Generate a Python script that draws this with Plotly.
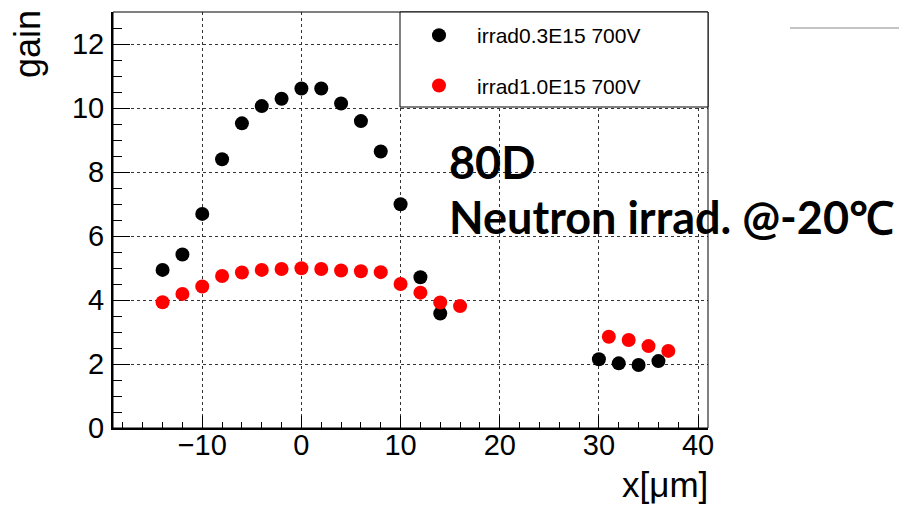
import plotly.graph_objects as go

# ---- data ----
x_black = [-14, -12, -10, -8, -6, -4, -2, 0, 2, 4, 6, 8, 10, 12, 14, 30, 32, 34, 36]
y_black = [4.94, 5.42, 6.69, 8.40, 9.52, 10.06, 10.29, 10.61, 10.61, 10.14, 9.59, 8.64, 6.99,
           4.71, 3.58, 2.15, 2.02, 1.97, 2.09]
x_red = [-14, -12, -10, -8, -6, -4, -2, 0, 2, 4, 6, 8, 10, 12, 14, 16, 31, 33, 35, 37]
y_red = [3.93, 4.19, 4.42, 4.75, 4.86, 4.94, 4.97, 4.99, 4.97, 4.92, 4.90, 4.87, 4.50,
         4.23, 3.92, 3.81, 2.85, 2.75, 2.56, 2.41]
name_black = "irrad0.3E15 700V"
name_red = "irrad1.0E15 700V"
x_title = "x[\u03bcm]"
y_title = "gain"
label_1 = "80D"
label_2 = "Neutron irrad. @-20\u2103"

W, H = 899, 505
L, R, T, B = 113, 191, 12, 77
pw, ph = W - L - R, H - T - B


def px(xp):
    return (xp - L) / pw


def py(yp):
    return (H - B - yp) / ph


fig = go.Figure()
fig.add_trace(go.Scatter(x=x_black, y=y_black, mode="markers", name=name_black,
                         marker=dict(color="black", size=14), legendgroup="a"))
fig.add_trace(go.Scatter(x=x_red, y=y_red, mode="markers", name=name_red,
                         marker=dict(color="#ff0000", size=14), legendgroup="b"))

tickfont = dict(family="Liberation Sans, Arial, sans-serif", size=29, color="black")
fig.update_xaxes(range=[-19, 41], dtick=10, tick0=0, showline=True, linewidth=2, linecolor="black",
                 ticks="inside", ticklen=12, tickwidth=1, tickcolor="black",
                 minor=dict(dtick=2, ticks="inside", ticklen=6, tickcolor="black", showgrid=False),
                 showgrid=True, gridcolor="#333", griddash="dot", gridwidth=1,
                 zeroline=False, tickfont=tickfont, ticklabelstandoff=-10)
fig.update_yaxes(range=[0, 13], dtick=2, tick0=0, showline=True, linewidth=2, linecolor="black",
                 ticks="inside", ticklen=17, tickwidth=1, tickcolor="black",
                 minor=dict(dtick=0.5, ticks="inside", ticklen=9, tickcolor="black", showgrid=False),
                 showgrid=True, gridcolor="#333", griddash="dot", gridwidth=1,
                 zeroline=False, tickfont=tickfont, ticklabelstandoff=1)

shapes = [
    # frame
    dict(type="rect", xref="paper", yref="paper", x0=0, x1=1, y0=0, y1=1,
         line=dict(color="black", width=1), layer="above"),
    # legend box
    dict(type="rect", xref="paper", yref="paper", x0=px(400), x1=1, y0=py(107), y1=1,
         line=dict(color="black", width=1), fillcolor="white", layer="above"),
    # gray line top right
    dict(type="line", xref="paper", yref="paper", x0=px(790), x1=px(899), y0=py(28), y1=py(28),
         line=dict(color="#c4c4c4", width=2)),
]

annots = [
    dict(text=y_title, textangle=-90, xref="paper", yref="paper", x=px(27), y=py(8),
         xanchor="center", yanchor="top", showarrow=False,
         font=dict(family="Liberation Sans, Arial, sans-serif", size=36, color="black")),
    dict(text=x_title, xref="paper", yref="paper", x=px(710), y=py(506),
         xanchor="right", yanchor="bottom", showarrow=False,
         font=dict(family="Liberation Sans, Arial, sans-serif", size=35, color="black")),
    dict(text="<b>" + label_1 + "</b>", xref="paper", yref="paper", x=px(447), y=py(162),
         xanchor="left", yanchor="middle", showarrow=False,
         font=dict(family="Lato, sans-serif", size=45, color="black")),
    dict(text="<b>" + label_2 + "</b>", xref="paper", yref="paper", x=px(447), y=py(217),
         xanchor="left", yanchor="middle", showarrow=False,
         font=dict(family="Lato, sans-serif", size=45, color="black")),
]

fig.update_layout(
    width=W, height=H, margin=dict(l=L, r=R, t=T, b=B, pad=0),
    paper_bgcolor="white", plot_bgcolor="white",
    shapes=shapes, annotations=annots,
    showlegend=True,
    legend=dict(x=px(401), y=py(15), xanchor="left", yanchor="top", xref="paper", yref="paper",
                bgcolor="rgba(0,0,0,0)", borderwidth=0, tracegroupgap=20, itemwidth=66,
                font=dict(family="Liberation Sans, Arial, sans-serif", size=21, color="black"),
                itemsizing="trace"),
)

fig.write_html("out.html", config={"displayModeBar": False},
               post_script="document.body.style.margin='0';document.body.style.overflow='hidden';")
